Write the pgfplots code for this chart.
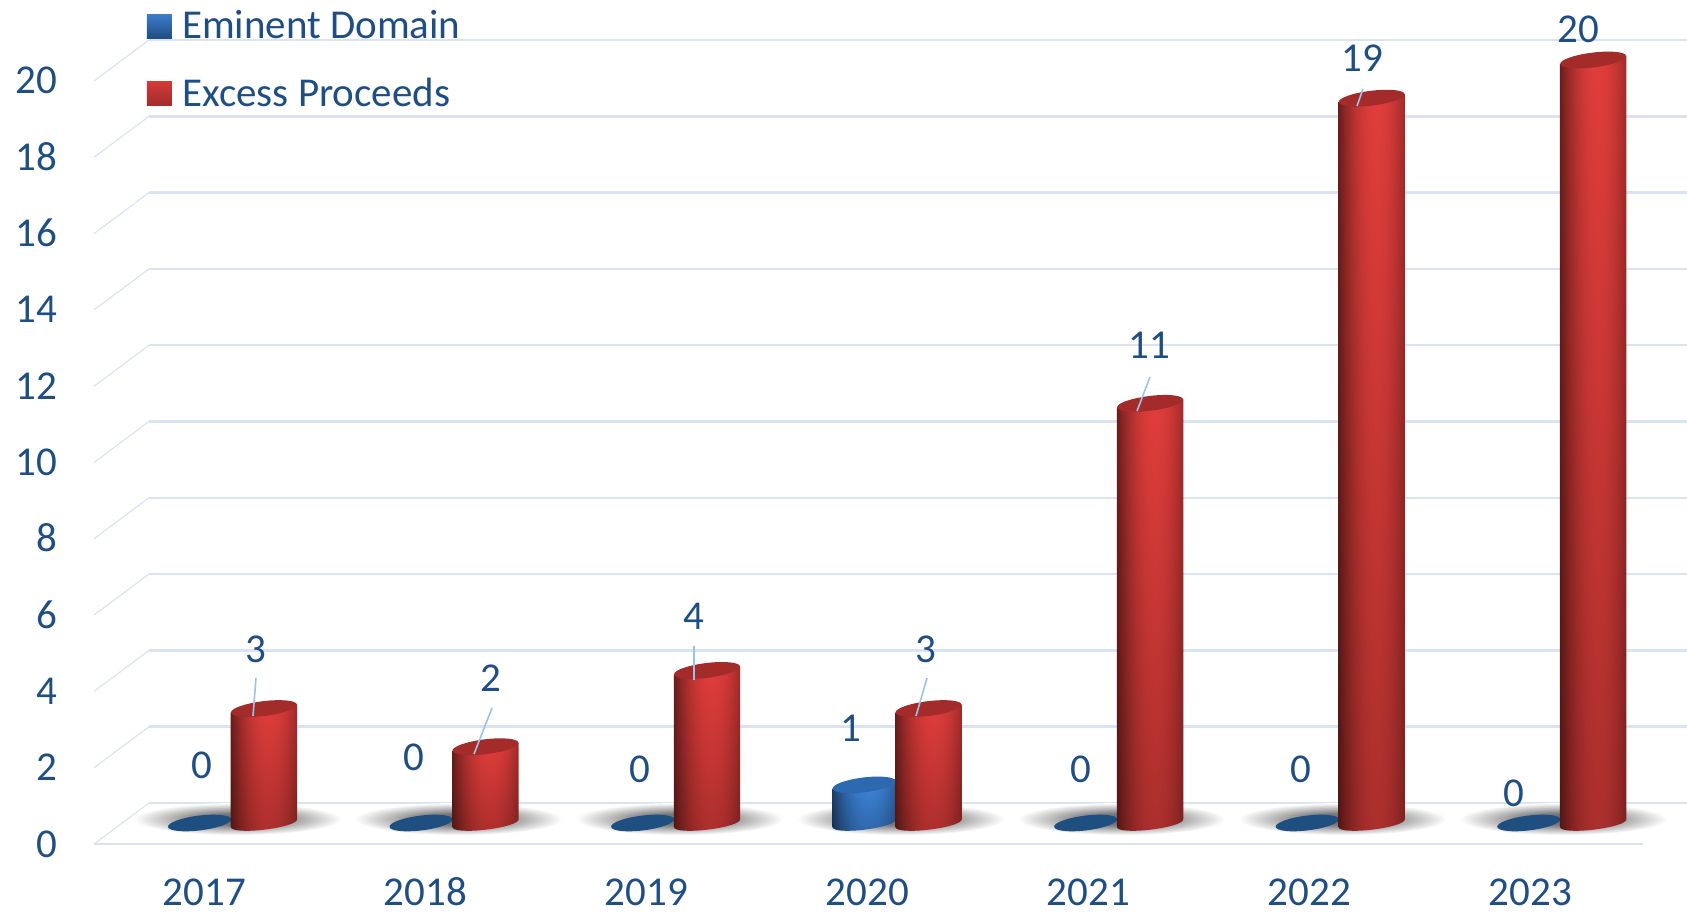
\documentclass[border=0pt]{standalone}
\usepackage{pgfplots}
\pgfplotsset{compat=1.18}
\usepackage{pgfplotstable}
\usepackage{fontspec}
\setmainfont{Carlito}
\definecolor{txt}{HTML}{1F4E85}
\definecolor{gridc}{HTML}{D9E3F2}
\definecolor{leader}{HTML}{9CC2EA}
\definecolor{redtop}{HTML}{A32C2A}
\definecolor{redleg}{HTML}{D13B37}
\definecolor{bluetop}{HTML}{2D69AE}
\definecolor{blueleg}{HTML}{3C7CCB}
\definecolor{blueflat}{HTML}{1F4E80}
\pgfdeclarefunctionalshading{redcyl}{\pgfpoint{-50bp}{-50bp}}{\pgfpoint{50bp}{50bp}}{}{
 25 add 50 div 0.24 mul 0.76 add exch 3 sub 25 div abs dup mul 0.42 mul 1 exch sub mul
 dup 0.88 mul exch dup 0.24 mul exch 0.23 mul }
\pgfdeclarefunctionalshading{bluecyl}{\pgfpoint{-50bp}{-50bp}}{\pgfpoint{50bp}{50bp}}{}{
 25 add 50 div 0.24 mul 0.76 add exch 3 sub 25 div abs dup mul 0.42 mul 1 exch sub mul
 dup 0.24 mul exch dup 0.52 mul exch 0.86 mul }
\pgfdeclareradialshading{floorshadow}{\pgfpointorigin}{color(0bp)=(black!58);color(9bp)=(black!52);color(25bp)=(white);color(50bp)=(white)}
\pgfplotstableread{
year eminent excess
2017 0 3
2018 0 2
2019 0 4
2020 1 3
2021 0 11
2022 0 19
2023 0 20
}\casedata
% one cylinder, drawn from the plotted point; 1 px = 0.5pt, 1 unit = 19.075pt
\newcommand\cylinder[6]{% x shift, half width, shading, top colour, value, x value
  \pgfmathsetmacro\T{10.5}
  \pgfmathsetmacro\B{10.5-#5*19.075}
  \pgfmathsetmacro\isz{#5==0?1:0}
  \pgfmathsetmacro\XM{#1+0.27*(#6-2017)}
  \pgfmathsetmacro\XL{\XM-#2}
  \pgfmathsetmacro\XR{\XM+#2}
  \pgfmathsetmacro\XLc{\XM-#2+0.55}
  \pgfmathsetmacro\XRc{\XM+#2+0.55}
  \ifdim\isz pt>0.5pt
    \fill[blueflat,draw=none] (\XM pt,\B pt) ellipse[x radius=#2pt,y radius=3.7pt,rotate=7];
  \else
    \shade[shading=#3,draw=none] (\XL pt,\B pt-2pt)
      .. controls (\XLc pt,\B pt-6.4pt) and (\XRc pt,\B pt-2.4pt) .. (\XR pt,\B pt+2pt)
      -- (\XR pt,\T pt+2pt) -- (\XL pt,\T pt-2pt) -- cycle;
    \fill[#4,draw=none] (\XM pt,\T pt) ellipse[x radius=#2pt,y radius=3.7pt,rotate=7];
  \fi}
\newcommand\PP[2]{({#1*0.5pt},{(912-#2)*0.5pt})}
\begin{document}
\begin{tikzpicture}[x=1pt,y=1pt]
\useasboundingbox (0,0) rectangle (843.5pt,456pt);
% walls and floor
\foreach \v in {0,2,...,20}{
  \pgfmathsetmacro\fy{844-38.15*\v}
  \pgfmathsetmacro\by{803-38.15*\v}
  \draw[gridc,line width=0.6pt] \PP{94}{\fy} -- \PP{149}{\by};
  \draw[gridc,line width=1.3pt] \PP{149}{\by} -- \PP{1687}{\by};
}
\draw[gridc,line width=1.3pt] \PP{94}{844} -- \PP{1643}{844};
\begin{axis}[
  at={(46.8pt,34pt)}, anchor=south west,
  scale only axis, width=796.7pt, height=422pt,
  clip=false,
  xmin=2016.498, xmax=2023.708, ymin=0, ymax=22.123,
  axis x line*=bottom, axis y line*=left,
  axis line style={draw=none}, tick style={draw=none},
  xtick={2017,2018,2019,2020,2021,2022,2023},
  xticklabels={2017,2018,2019,2020,2021,2022,2023},
  ytick={0,2,...,20},
  /pgf/number format/assume math mode=true,
  tick label style={font=\fontsize{20.5}{22}\selectfont, text=txt, text height=13pt, text depth=0pt},
  xticklabel style={inner sep=0pt, yshift=-17.6pt},
  yticklabel style={xshift=-14.5pt},
  legend style={draw=none, fill=none, at={(0.0335,0.992)}, anchor=north west,
    font=\fontsize{20.5}{22}\selectfont, text=txt, row sep=14pt, inner sep=0pt, outer sep=0pt},
  legend cell align=left,
]
\addlegendimage{legend image code/.code={\shade[top color=blueleg, bottom color=blueflat, draw=none] (0pt,-6pt) rectangle (12.4pt,6pt);}}
\addlegendentry{\hspace*{3.2pt}Eminent Domain}
\addlegendimage{legend image code/.code={\shade[top color=redleg, bottom color=redtop, draw=none] (0pt,-6pt) rectangle (12.4pt,6pt);}}
\addlegendentry{\hspace*{3.2pt}Excess Proceeds}
% floor shadows
\addplot[forget plot, scatter, only marks, mark=none, scatter src=x,
  scatter/@pre marker code/.code={\shade[shading=floorshadow,draw=none] (16.5pt,12.5pt) ellipse[x radius=52pt,y radius=8pt];},
  scatter/@post marker code/.code={}]
  coordinates {(2017,0) (2018,0) (2019,0) (2020,0) (2021,0) (2022,0) (2023,0)};
% Eminent Domain
\addplot[forget plot, scatter, only marks, mark=none, scatter src=x,
  visualization depends on={y \as \val},
  visualization depends on={x \as \xv},
  scatter/@pre marker code/.code={\cylinder{-2.5}{15.9}{bluecyl}{bluetop}{\val}{\xv}},
  scatter/@post marker code/.code={}]
  table[x=year,y=eminent] {\casedata};
% Excess Proceeds
\addplot[forget plot, scatter, only marks, mark=none, scatter src=x,
  visualization depends on={y \as \val},
  visualization depends on={x \as \xv},
  scatter/@pre marker code/.code={\cylinder{29.7}{16.6}{redcyl}{redtop}{\val}{\xv}},
  scatter/@post marker code/.code={}]
  table[x=year,y=excess] {\casedata};
\end{axis}
% leader lines
\draw[leader,line width=0.8pt] \PP{256}{678} -- \PP{253}{716};
\draw[leader,line width=0.8pt] \PP{492}{708} -- \PP{474}{754};
\draw[leader,line width=0.8pt] \PP{694}{646} -- \PP{694}{680};
\draw[leader,line width=0.8pt] \PP{927}{678} -- \PP{916}{716};
\draw[leader,line width=0.8pt] \PP{1150}{377} -- \PP{1137}{411};
\draw[leader,line width=0.8pt] \PP{1363}{89} -- \PP{1357}{106};
% data labels
\begin{scope}[every node/.style={text=txt,font=\fontsize{20.5}{22}\selectfont,inner sep=0pt,text height=13pt,text depth=0pt}]
\node at \PP{202}{765} {0};  \node at \PP{256}{649} {3};
\node at \PP{414}{757} {0};  \node at \PP{491}{678} {2};
\node at \PP{640}{769} {0};  \node at \PP{694}{616} {4};
\node at \PP{851}{728} {1};  \node at \PP{926}{649} {3};
\node at \PP{1081}{769} {0}; \node at \PP{1149}{346} {11};
\node at \PP{1301}{769} {0}; \node at \PP{1362}{59} {19};
\node at \PP{1514}{793} {0}; \node at \PP{1578}{30} {20};
\end{scope}
\end{tikzpicture}
\end{document}
